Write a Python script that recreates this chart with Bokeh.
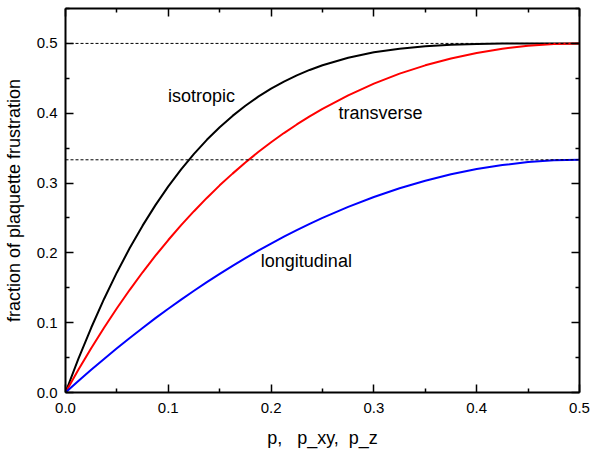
from bokeh.plotting import figure
from bokeh.models import LinearAxis, FixedTicker, Span, Range1d, PrintfTickFormatter, ColumnDataSource
from bokeh.core.properties import value
from bokeh.embed import file_html
from bokeh.resources import INLINE

# data
p_vals = [0.0, 0.0125, 0.025, 0.0375, 0.05, 0.0625, 0.075, 0.0875, 0.1, 0.1125, 0.125,
          0.1375, 0.15, 0.1625, 0.175, 0.1875, 0.2, 0.2125, 0.225, 0.2375, 0.25,
          0.275, 0.3, 0.325, 0.35, 0.375, 0.4, 0.425, 0.45, 0.475, 0.5]
isotropic = [0.0, 0.0482, 0.0927, 0.1340, 0.1720, 0.2069, 0.2390, 0.2684, 0.2952, 0.3196, 0.3418,
             0.3619, 0.3800, 0.3962, 0.4107, 0.4237, 0.4352, 0.4453, 0.4542, 0.4620, 0.4688,
             0.4795, 0.4872, 0.4925, 0.4960, 0.4980, 0.4992, 0.4997, 0.4999, 0.5000, 0.5000]
transverse = [0.0, 0.0325, 0.0634, 0.0928, 0.1206, 0.1471, 0.1722, 0.1959, 0.2184, 0.2397, 0.2597,
              0.2787, 0.2967, 0.3135, 0.3294, 0.3444, 0.3584, 0.3716, 0.3839, 0.3955, 0.4063,
              0.4256, 0.4424, 0.4567, 0.4686, 0.4785, 0.4864, 0.4924, 0.4967, 0.4992, 0.5000]
longitudinal = [0.0, 0.0165, 0.0325, 0.0481, 0.0633, 0.0781, 0.0925, 0.1065, 0.1200, 0.1331, 0.1458,
                0.1581, 0.1700, 0.1815, 0.1925, 0.2031, 0.2133, 0.2231, 0.2325, 0.2415, 0.2500,
                0.2658, 0.2800, 0.2925, 0.3033, 0.3125, 0.3200, 0.3258, 0.3300, 0.3325, 0.3333]
ref_levels = [0.5, 0.3333]
tick_vals = [0.0, 0.1, 0.2, 0.3, 0.4, 0.5]
minor_vals = [0.05, 0.15, 0.25, 0.35, 0.45]
y_minor_vals = [0.05, 0.15, 0.25, 0.35, 0.45, 0.55]
curve_names = ["isotropic", "transverse", "longitudinal"]
label_x = [0.0998, 0.2655, 0.19]
label_y = [0.424, 0.400, 0.188]

FONT = "Liberation Sans"

p = figure(width=592, height=450, output_backend="svg", toolbar_location=None,
           x_range=Range1d(0, 0.5), y_range=Range1d(0, 0.55),
           min_border_left=63, min_border_right=13, min_border_top=8, min_border_bottom=58,
           x_axis_location=None, y_axis_location=None)
p.xgrid.visible = False
p.ygrid.visible = False
p.outline_line_color = None
p.background_fill_color = "white"
p.border_fill_color = "white"

def style_axis(ax, ticks, minors, show_labels):
    ax.ticker = FixedTicker(ticks=ticks, minor_ticks=minors)
    ax.formatter = PrintfTickFormatter(format="%.1f")
    ax.axis_line_width = 2
    ax.axis_line_color = "black"
    ax.major_tick_in = 8
    ax.major_tick_out = 0
    ax.minor_tick_in = 4
    ax.minor_tick_out = 0
    ax.major_tick_line_width = 1.5
    ax.minor_tick_line_width = 1.5
    ax.major_label_text_font = FONT
    ax.major_label_text_font_size = "15px"
    ax.major_label_text_color = "black"
    ax.major_label_standoff = 8 if show_labels else 0
    if not show_labels:
        ax.major_label_overrides = {t: "" for t in ticks}
    ax.axis_label_text_font = FONT
    ax.axis_label_text_font_size = "18px"
    ax.axis_label_text_font_style = "normal"
    ax.axis_label_text_color = "black"

xb = LinearAxis(axis_label="p,\u00a0\u00a0\u00a0p_xy,\u00a0\u00a0p_z")
style_axis(xb, tick_vals, minor_vals, True)
xb.major_label_standoff = 10
xb.axis_label_standoff = 12
p.add_layout(xb, "below")

yl = LinearAxis(axis_label="fraction of plaquette frustration")
style_axis(yl, tick_vals, y_minor_vals, True)
yl.axis_label_standoff = 10
p.add_layout(yl, "left")

xt = LinearAxis()
style_axis(xt, tick_vals, minor_vals, False)
p.add_layout(xt, "above")

yr = LinearAxis()
style_axis(yr, tick_vals, y_minor_vals, False)
p.add_layout(yr, "right")

for lvl in ref_levels:
    p.add_layout(Span(location=lvl, dimension="width", line_color="black",
                      line_width=1, line_dash="3 2"))

p.line(p_vals, isotropic, line_color="black", line_width=2, line_join="round")
p.line(p_vals, transverse, line_color="#ff0000", line_width=2, line_join="round")
p.line(p_vals, longitudinal, line_color="#0000ff", line_width=2, line_join="round")

src = ColumnDataSource(dict(x=label_x, y=label_y, t=curve_names))
p.text(x="x", y="y", text="t", source=src, text_font=value(FONT),
       text_font_size=value("18px"), text_align="left", text_baseline="middle",
       text_color="black")

open("out.html", "w").write(file_html(p, INLINE))
